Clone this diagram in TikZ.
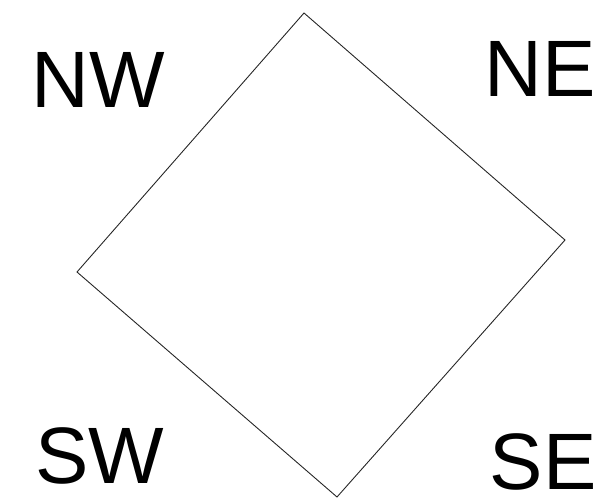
\documentclass[tikz,border=0pt]{standalone}
\usepackage{fontspec}
\setmainfont{Liberation Sans}
\begin{document}
\begin{tikzpicture}[x=1pt,y=-1pt,
  lbl/.style={anchor=base,inner sep=0pt,text depth=0pt,font=\fontsize{80}{90}\selectfont},
  sq/.style={draw=black!85,line width=0.9pt,line join=miter}]
\useasboundingbox (0,0) rectangle (599,500);
\coordinate (T) at (304,13);
\coordinate (R) at (565,240);
\coordinate (B) at (337,497);
\coordinate (L) at (77,272);
\draw[sq] (T) -- (R) -- (B) -- (L) -- cycle;
\node[lbl] (nw) at (98.5,107) {NW};
\node[lbl] (ne) at (540.5,97) {NE};
\node[lbl] (sw) at (99.5,483) {SW};
\node[lbl] (se) at (543,489) {SE};
\end{tikzpicture}
\end{document}
